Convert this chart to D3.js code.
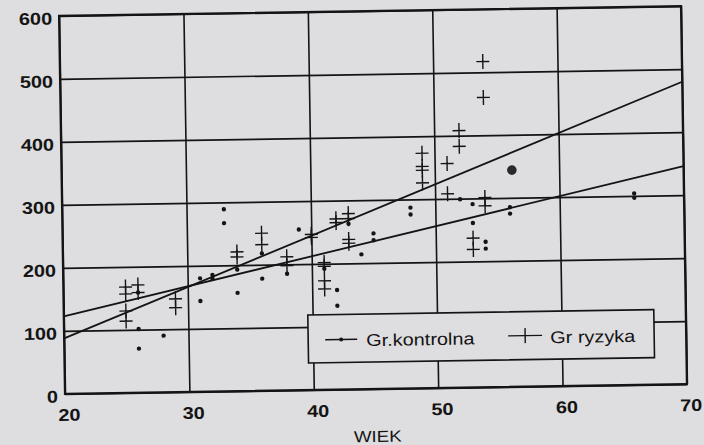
<!DOCTYPE html>
<html>
<head>
<meta charset="utf-8">
<script src="https://cdn.jsdelivr.net/npm/d3@7"></script>
<style>
  html, body { margin: 0; padding: 0; background: #dedde0; }
  svg { display: block; }
</style>
</head>
<body>
<svg id="chart" width="704" height="445"></svg>
<script>
// ---- data ----
const xTicks = [20, 30, 40, 50, 60, 70];
const yTicks = [0, 100, 200, 300, 400, 500, 600];
const xTitle = "WIEK";
const seriesNames = ["Gr.kontrolna", "Gr ryzyka"];

// Gr.kontrolna (dots)
const kontrolnaAge = [26,26,26,28,31,31,32,32,33,33,34,34,36,36,38,39,41,42,42,43,44,45,45,48,48,52,53,53,54,54,56,56,66,66];
const kontrolnaVal = [159,101,70,90,180,144,185,179,289,267,193,156,218,178,185,255,192,158,133,263,214,247,236,287,276,299,291,261,231,220,285,275,304,297];

// Gr ryzyka (plus markers)
const ryzykaAge = [25,25,25,25,26,26,29,29,34,34,36,36,38,38,40,40,41,41,41,41,42,42,43,43,43,43,49,49,49,49,51,51,52,52,53,53,54,54,54,54];
const ryzykaVal = [168,157,130,114,171,159,148,134,221,213,250,232,212,198,247,242,202,196,173,160,271,265,279,271,238,232,373,352,346,326,356,308,408,383,237,219,517,460,301,288];

// regression lines (end points)
const fitKontrolna = [[20, 123], [70, 346]];
const fitRyzyka = [[20, 88], [70, 480]];

// ink spot on the scan
const inkSpot = [[56.2, 344]];

// ---- drawing ----
const svg = d3.select("#chart");
svg.append("rect").attr("width", 704).attr("height", 445).attr("fill", "#dedde0");

const L = 62, R = 684, T = 11, B = 389;
const x = d3.scaleLinear().domain([20, 70]).range([L, R]);
const y = d3.scaleLinear().domain([0, 600]).range([B, T]);
const ink = "#141414";
const FONT = "'Liberation Sans', Arial, sans-serif";
const SX = 1.17;

const g = svg.append("g").attr("transform", "rotate(-0.9,373,200)");

// y axis with gridlines
const yAx = g.append("g").attr("transform", `translate(${L},0)`)
  .call(d3.axisLeft(y).tickValues(yTicks).tickSize(-(R - L)).tickPadding(6).tickFormat(d3.format("d")));
yAx.select(".domain").remove();
yAx.selectAll("line").attr("stroke", ink).attr("stroke-width", 1.6);
yAx.selectAll("text")
  .attr("fill", ink).attr("font-family", FONT).attr("font-weight", "bold").attr("font-size", 17)
  .attr("dy", "0.47em").attr("transform", `scale(${SX},1)`);

// x axis with gridlines
const xAx = g.append("g").attr("transform", `translate(0,${B})`)
  .call(d3.axisBottom(x).tickValues(xTicks).tickSize(-(B - T)).tickPadding(15).tickFormat(d3.format("d")));
xAx.select(".domain").remove();
xAx.selectAll("line").attr("stroke", ink).attr("stroke-width", 1.6);
xAx.selectAll("text")
  .attr("fill", ink).attr("font-family", FONT).attr("font-weight", "bold").attr("font-size", 17)
  .attr("x", 3).attr("transform", `scale(${SX},1)`);

// frame
g.append("rect").attr("x", x(20)).attr("y", y(600))
  .attr("width", x(70) - x(20)).attr("height", y(0) - y(600))
  .attr("fill", "none").attr("stroke", ink).attr("stroke-width", 2.2);

// x title
g.append("text").attr("transform", `translate(374,442) scale(${SX},1)`)
  .attr("text-anchor", "middle").attr("font-family", FONT).attr("font-size", 16)
  .attr("fill", ink).text(xTitle);

// regression lines
const line = d3.line().x(d => x(d[0])).y(d => y(d[1]));
[fitKontrolna, fitRyzyka].forEach(f => {
  g.append("path").attr("d", line(f)).attr("fill", "none")
    .attr("stroke", ink).attr("stroke-width", 1.8);
});

// control dots
g.append("g").selectAll("circle").data(kontrolnaAge.map((a, i) => [a, kontrolnaVal[i]]))
  .join("circle").attr("cx", d => x(d[0])).attr("cy", d => y(d[1])).attr("r", 2.2).attr("fill", ink);

// ink spot
g.append("g").selectAll("circle").data(inkSpot)
  .join("circle").attr("cx", d => x(d[0])).attr("cy", d => y(d[1])).attr("r", 4.8).attr("fill", "#2a2a2a");

// risk pluses
const plusPath = "M-6.5,0H6.5M0,-7.5V7.5";
g.append("g").selectAll("path").data(ryzykaAge.map((a, i) => [a, ryzykaVal[i]]))
  .join("path").attr("d", plusPath)
  .attr("transform", d => `translate(${x(d[0])},${y(d[1])})`)
  .attr("fill", "none").attr("stroke", ink).attr("stroke-width", 1.4);

// legend
const lg = g.append("g");
lg.append("rect").attr("x", 306).attr("y", 314).attr("width", 346).attr("height", 48)
  .attr("fill", "#dedde0").attr("stroke", ink).attr("stroke-width", 1.6);
// entry 1
lg.append("line").attr("x1", 323).attr("x2", 355).attr("y1", 339).attr("y2", 339)
  .attr("stroke", ink).attr("stroke-width", 1.4);
lg.append("circle").attr("cx", 339).attr("cy", 339).attr("r", 2).attr("fill", ink);
lg.append("text").attr("transform", `translate(364,346) scale(${SX},1)`)
  .attr("font-family", FONT).attr("font-size", 17).attr("fill", ink).text(seriesNames[0]);
// entry 2
lg.append("line").attr("x1", 506).attr("x2", 540).attr("y1", 338).attr("y2", 338)
  .attr("stroke", ink).attr("stroke-width", 1.4);
lg.append("line").attr("x1", 523).attr("x2", 523).attr("y1", 330.5).attr("y2", 345.5)
  .attr("stroke", ink).attr("stroke-width", 1.4);
lg.append("text").attr("transform", `translate(548,346) scale(${SX},1)`)
  .attr("font-family", FONT).attr("font-size", 17).attr("fill", ink).text(seriesNames[1]);
</script>
</body>
</html>
